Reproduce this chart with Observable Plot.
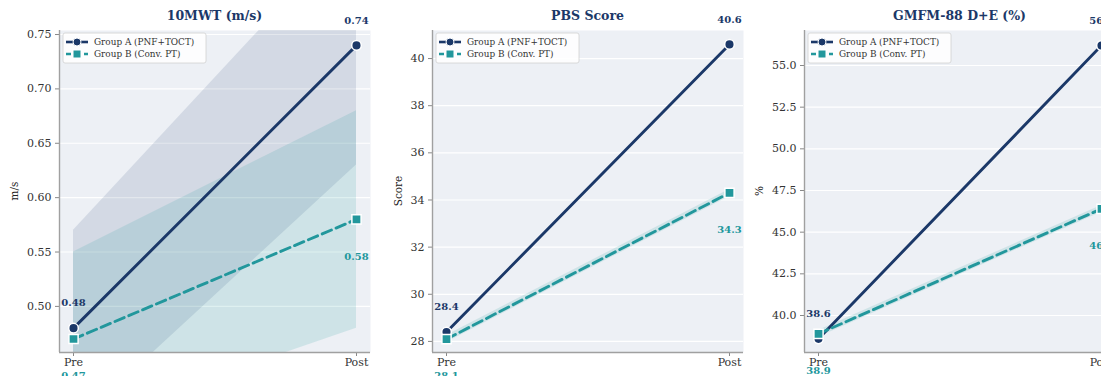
<!DOCTYPE html>
<html>
<head>
<meta charset="utf-8">
<script src="https://cdn.jsdelivr.net/npm/d3@7"></script>
<script src="https://cdn.jsdelivr.net/npm/@observablehq/plot@0.6"></script>
<style>
  html, body { margin: 0; padding: 0; background: #fff; overflow: hidden; width: 1101px; height: 376px; }
  #row { position: relative; width: 1101px; height: 376px; overflow: hidden; }
  .panel { position: absolute; top: 0; width: 372px; height: 376px; }
  .panel svg { max-width: none !important; }
</style>
</head>
<body>
<div id="row"></div>
<script>
// Assessment phases and groups
const phases = ["Pre", "Post"];
const groups = ["Group A (PNF+TOCT)", "Group B (Conv. PT)"];

// 10-metre walk test (m/s): means and confidence bands
const mwtA = [0.48, 0.74];
const mwtB = [0.47, 0.58];
const mwtALo = [0.39, 0.63];
const mwtAHi = [0.57, 0.85];
const mwtBLo = [0.39, 0.48];
const mwtBHi = [0.55, 0.68];
const mwtTicks = [0.50, 0.55, 0.60, 0.65, 0.70, 0.75];

// Pediatric Balance Scale
const pbsA = [28.4, 40.6];
const pbsB = [28.1, 34.3];
const pbsBLo = [27.95, 34.15];
const pbsBHi = [28.25, 34.45];
const pbsTicks = [28, 30, 32, 34, 36, 38, 40];

// GMFM-88 dimensions D+E (%)
const gmfmA = [38.6, 56.2];
const gmfmB = [38.9, 46.4];
const gmfmBLo = [38.7, 46.2];
const gmfmBHi = [39.1, 46.6];
const gmfmTicks = [40.0, 42.5, 45.0, 47.5, 50.0, 52.5, 55.0];

const NAVY = "#1b3868";
const TEAL = "#22979c";
const BG = "#edf0f5";
const FONT = "DejaVu Serif";

const panels = [
  { title: "10MWT (m/s)", ylabel: "m/s", labelX: 15, a: mwtA, b: mwtB,
    aLo: mwtALo, aHi: mwtAHi, bLo: mwtBLo, bHi: mwtBHi, ticks: mwtTicks,
    domain: [0.4576, 0.7537], fmt: d3.format(".2f"), vfmt: d3.format(".2f") },
  { title: "PBS Score", ylabel: "Score", labelX: 26, a: pbsA, b: pbsB,
    bLo: pbsBLo, bHi: pbsBHi, ticks: pbsTicks,
    domain: [27.53, 41.19], fmt: d3.format("d"), vfmt: d3.format(".1f") },
  { title: "GMFM-88 D+E (%)", ylabel: "%", labelX: 15, a: gmfmA, b: gmfmB,
    bLo: gmfmBLo, bHi: gmfmBHi, ticks: gmfmTicks,
    domain: [37.78, 57.1], fmt: d3.format(".1f"), vfmt: d3.format(".1f") }
];

const W = 372, H = 376, mL = 59, mR = 2, mT = 30, mB = 24;
const pad = 0.0495;
const idx = [0, 1];

function drawPanel(cfg, left) {
  const marks = [
    Plot.frame({fill: BG, stroke: "none"}),
    Plot.gridY(cfg.ticks, {stroke: "#fff", strokeOpacity: 1, strokeWidth: 1.2})
  ];
  if (cfg.aLo) {
    marks.push(Plot.areaY(idx, {x: i => i, y1: i => cfg.aLo[i], y2: i => cfg.aHi[i],
      fill: NAVY, fillOpacity: 0.12, clip: true}));
  }
  if (cfg.bLo) {
    marks.push(Plot.areaY(idx, {x: i => i, y1: i => cfg.bLo[i], y2: i => cfg.bHi[i],
      fill: TEAL, fillOpacity: 0.15, clip: true}));
  }
  marks.push(
    Plot.axisY(cfg.ticks, {tickFormat: cfg.fmt, tickSize: 4, tickPadding: 4,
      stroke: "#888", fontSize: 11, label: null}),
    Plot.axisX(idx, {tickFormat: i => phases[i], tickSize: 4, tickPadding: 2,
      stroke: "#888", fontSize: 11, label: null}),
    Plot.ruleX([-pad], {stroke: "#a0a0a0", strokeWidth: 1.4}),
    Plot.ruleY([cfg.domain[0]], {stroke: "#a0a0a0", strokeWidth: 1.4}),
    Plot.lineY(idx, {x: i => i, y: i => cfg.a[i], stroke: NAVY, strokeWidth: 2.9}),
    Plot.lineY(idx, {x: i => i, y: i => cfg.b[i], stroke: TEAL, strokeWidth: 2.9,
      strokeDasharray: "10,5"}),
    Plot.dot(idx, {x: i => i, y: i => cfg.a[i], r: 4.8, fill: NAVY,
      stroke: "#fff", strokeWidth: 1.5}),
    Plot.dot(idx, {x: i => i, y: i => cfg.b[i], r: 5.2, symbol: "square", fill: TEAL,
      stroke: "#fff", strokeWidth: 1.5}),
    Plot.text(idx, {x: i => i, y: i => cfg.a[i], text: i => cfg.vfmt(cfg.a[i]),
      dy: -25, fill: NAVY, fontWeight: "bold", fontSize: 10}),
    Plot.text(idx, {x: i => i, y: i => cfg.b[i], text: i => cfg.vfmt(cfg.b[i]),
      dy: 37, fill: TEAL, fontWeight: "bold", fontSize: 10})
  );

  const svg = Plot.plot({
    width: W, height: H,
    marginLeft: mL, marginRight: mR, marginTop: mT, marginBottom: mB,
    style: {fontFamily: FONT, fontSize: "11px", color: "#333", background: "transparent",
      overflow: "visible", maxWidth: "none"},
    x: {type: "linear", domain: [-pad, 1 + pad]},
    y: {domain: cfg.domain},
    marks
  });
  svg.setAttribute("width", W);
  svg.setAttribute("height", H);

  const s = d3.select(svg);
  // panel title
  s.append("text")
    .attr("x", mL + (W - mL - mR) / 2).attr("y", 20)
    .attr("text-anchor", "middle")
    .attr("font-family", FONT).attr("font-weight", "bold").attr("font-size", 12.5)
    .attr("fill", NAVY)
    .text(cfg.title);
  // y-axis label
  s.append("text")
    .attr("transform", `translate(${cfg.labelX},${mT + (H - mT - mB) / 2}) rotate(-90)`)
    .attr("text-anchor", "middle").attr("dominant-baseline", "middle")
    .attr("font-family", FONT).attr("font-size", 10.5).attr("fill", "#222")
    .text(cfg.ylabel);

  // legend box in the upper-left corner
  const lg = s.append("g").attr("transform", `translate(${mL + 4},${mT + 3})`);
  lg.append("rect").attr("width", 143).attr("height", 30).attr("rx", 2)
    .attr("fill", "#fff").attr("fill-opacity", 0.85)
    .attr("stroke", "#d0d0d0").attr("stroke-width", 0.8);
  const entries = [
    {label: groups[0], color: NAVY, dash: null, symbol: "circle"},
    {label: groups[1], color: TEAL, dash: "5,4", symbol: "square"}
  ];
  entries.forEach((e, k) => {
    const y = 9 + k * 12;
    lg.append("line").attr("x1", 3).attr("x2", 25).attr("y1", y).attr("y2", y)
      .attr("stroke", e.color).attr("stroke-width", 2.6)
      .attr("stroke-dasharray", e.dash);
    if (e.symbol === "circle") {
      lg.append("circle").attr("cx", 14).attr("cy", y).attr("r", 4)
        .attr("fill", e.color).attr("stroke", "#fff").attr("stroke-width", 1);
    } else {
      lg.append("rect").attr("x", 10).attr("y", y - 4).attr("width", 8).attr("height", 8)
        .attr("fill", e.color).attr("stroke", "#fff").attr("stroke-width", 1);
    }
    lg.append("text").attr("x", 31).attr("y", y)
      .attr("text-anchor", "start").attr("dominant-baseline", "middle")
      .attr("font-family", FONT).attr("font-size", 8.9).attr("fill", "#333")
      .text(e.label);
  });

  const holder = document.createElement("div");
  holder.className = "panel";
  holder.style.left = left + "px";
  holder.appendChild(svg);
  document.getElementById("row").appendChild(holder);
}

panels.forEach((cfg, k) => drawPanel(cfg, k * 372.5));
</script>
</body>
</html>
